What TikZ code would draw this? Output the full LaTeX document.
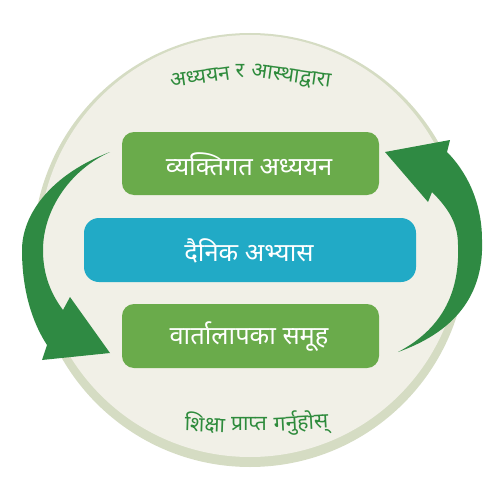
\documentclass[tikz,border=0pt]{standalone}
\usepackage{fontspec}
\newfontfamily\deva[Script=Devanagari]{Noto Sans}
\definecolor{ringc}{HTML}{D5DCC3}
\definecolor{discc}{HTML}{F1F0E7}
\definecolor{boxg}{HTML}{6AAB4B}
\definecolor{boxt}{HTML}{21AAC6}
\definecolor{arrg}{HTML}{2F8A43}
\definecolor{titg}{HTML}{2E8B3C}
\tikzset{
  gbox/.style={fill=boxg, rounded corners=12*0.02cm},
  tbox/.style={fill=boxt, rounded corners=15*0.02cm},
  btext/.style={text=white, font=\deva\fontsize{14.5}{16}\selectfont, inner sep=0pt},
  ttext/.style={text=titg, font=\deva\fontsize{12}{14}\selectfont, inner sep=0pt},
  arrow/.style={fill=arrg},
}
\begin{document}
\begin{tikzpicture}[x=0.02cm,y=-0.02cm]
\useasboundingbox (0,0) rectangle (500,500);
% disc
\fill[ringc] (250,250) circle[radius=217];
\fill[discc] (250,246) circle[radius=211];
% boxes
\fill[gbox] (122,132) rectangle (379,195);
\fill[tbox] (84,218) rectangle (416,282);
\fill[gbox] (122,304) rectangle (379,368);
\node[btext] (b1) at (249,164) {व्यक्तिगत अध्ययन};
\node[btext] (b2) at (249,251) {दैनिक अभ्यास};
\node[btext] (b3) at (249,337) {वार्तालापका समूह};
% left arrow
\fill[arrow] (110,152) .. controls (50,175) and (22,215) .. (22,250)
  .. controls (22,290) and (32,322) .. (47,345)
  -- (42,360) -- (110,353) -- (70,297) -- (63,310)
  .. controls (48,290) and (43,270) .. (43,250)
  .. controls (43,210) and (70,170) .. (110,152) -- cycle;
% right arrow
\fill[arrow] (398,352) .. controls (460,330) and (484,290) .. (482,240)
  .. controls (482,200) and (465,170) .. (447,152)
  -- (450,140) -- (385,152) -- (428,202) -- (432,192)
  .. controls (450,210) and (458,225) .. (458,245)
  .. controls (460,295) and (440,330) .. (398,352) -- cycle;
% title text
\node[ttext, rotate=8] (t1) at (200,77) {अध्ययन};
\node[ttext] (t2) at (240,71) {र};
\node[ttext, rotate=-8] (t3) at (291,77) {आस्थाद्वारा};
\node[ttext, rotate=-2] (u1) at (205,423) {शिक्षा};
\node[ttext] (u2) at (249,424) {प्राप्त};
\node[ttext, rotate=3] (u3) at (301,423) {गर्नुहोस्};
\end{tikzpicture}
\end{document}
